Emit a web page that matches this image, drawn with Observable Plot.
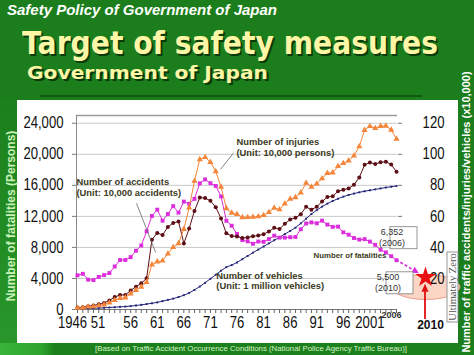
<!DOCTYPE html>
<html><head><meta charset="utf-8">
<script src="https://cdn.jsdelivr.net/npm/d3@7"></script>
<script src="https://cdn.jsdelivr.net/npm/@observablehq/plot@0.6"></script>
<style>
html,body{margin:0;padding:0;background:#1b7d1b;}
#stage{position:relative;width:474px;height:355px;overflow:hidden;background:#1b7d1b;font-family:"Liberation Sans",Arial,sans-serif;}
.abs{position:absolute;white-space:nowrap;line-height:1;}
#kicker{left:7px;top:3px;font-size:14px;font-weight:bold;font-style:italic;color:#fff;transform-origin:0 0;}
#title{left:22px;top:28px;font-family:"DejaVu Sans",sans-serif;font-weight:bold;font-size:31.5px;color:#fdf6a6;text-shadow:2px 2px 0 #0a3a0a;transform-origin:0 0;}
#subtitle{left:27px;top:64px;font-family:"DejaVu Sans",sans-serif;font-weight:bold;font-size:18.5px;color:#fdf6a6;text-shadow:2px 2px 0 #0a3a0a;transform-origin:0 0;}
#shadow{left:40px;top:95px;width:382px;height:2px;background:#0f5a0f;}
#panel{left:17px;top:100px;width:441px;height:243px;background:#fff;}
#footband{left:0;top:343px;width:474px;height:12px;background:linear-gradient(90deg,#38b438 0,#2fa52f 40px,#1c801c 55px,#1c801c 100%);}
#leftband{left:0;top:100px;width:17px;height:243px;background:linear-gradient(#1c801c,#28962a);}
#footer{left:95px;top:345px;font-size:7.5px;color:#d6f3c8;transform-origin:0 0;}
.rot{transform:translate(-50%,-50%) rotate(-90deg);font-weight:bold;}
#ylabL{left:11px;top:216px;font-size:12px;color:#c9f2b9;}
#ylabR{left:466px;top:212px;font-size:11px;color:#fff;}
#chart{position:absolute;left:0;top:0;}
</style></head>
<body>
<div id="stage">
  <div class="abs" id="kicker">Safety Policy of Government of Japan</div>
  <div class="abs" id="title">Target of safety measures</div>
  <div class="abs" id="subtitle">Government of Japan</div>
  <div class="abs" id="shadow"></div>
  <div class="abs" id="leftband"></div>
  <div class="abs" id="panel"></div>
  <div class="abs" id="footband"></div>
  <div class="abs" id="footer">[Based on Traffic Accident Occurrence Conditions (National Police Agency Traffic Bureau)]</div>
  <div class="abs rot" id="ylabL">Number of fatalities (Persons)</div>
  <div class="abs rot" id="ylabR">Number of traffic accidents/injuries/vehicles (x10,000)</div>
  <div id="chart"></div>
</div>
<script>
// ---------- data ----------
const years = [1946,1947,1948,1949,1950,1951,1952,1953,1954,1955,1956,1957,1958,1959,1960,1961,1962,1963,1964,1965,1966,1967,1968,1969,1970,1971,1972,1973,1974,1975,1976,1977,1978,1979,1980,1981,1982,1983,1984,1985,1986,1987,1988,1989,1990,1991,1992,1993,1994,1995,1996,1997,1998,1999,2000,2001,2002,2003,2004,2005,2006];
// persons (left axis)
const fatalities = [4409,4600,3848,3790,4202,4429,4696,5544,6374,6379,6751,7575,8248,10079,12055,12865,11445,12301,13318,12484,13904,13618,14256,16257,16765,16278,15918,14574,11432,10792,9734,8945,8783,8466,8760,8719,9073,9520,9262,9261,9317,9347,10344,11086,11227,11109,11451,10942,10649,10679,9942,9640,9211,9006,9066,8747,8326,7702,7358,6871,6352];
// x10,000 accidents (right axis)
const accidents = [1.25,1.47,2.13,2.51,3.32,4.14,5.85,8.00,9.39,9.40,12.27,14.68,16.88,20.13,44.99,49.37,47.98,53.20,55.72,56.73,42.59,52.15,63.51,72.09,71.81,70.03,65.93,58.67,49.05,47.29,47.10,46.06,46.40,47.16,47.67,48.56,50.23,52.64,51.86,55.28,57.92,59.07,61.45,66.14,64.31,66.24,69.53,72.47,72.95,76.18,77.11,78.04,80.39,85.04,93.19,94.73,93.70,94.83,95.22,93.43,88.69];
// x10,000 persons (right axis)
const injuries = [0.94,1.15,1.76,2.02,2.55,3.13,4.33,5.93,7.24,7.65,10.21,12.45,14.54,17.60,28.92,30.87,31.38,35.91,40.11,42.57,51.78,65.54,82.81,96.70,98.11,94.97,88.92,78.99,65.14,62.25,61.40,59.32,59.41,59.63,59.87,60.73,62.62,65.48,64.43,68.13,71.23,72.22,75.28,81.48,79.03,81.02,84.40,87.86,88.17,92.27,94.22,95.89,99.07,105.04,115.57,118.10,116.80,118.17,118.31,115.71,109.82];
// million vehicles (right axis)
const vehicles = [0.5,0.6,0.7,0.8,0.9,1.1,1.3,1.5,1.7,1.9,2.2,2.6,3.0,3.5,4.0,4.6,5.4,6.2,7.0,8.0,9.2,10.7,12.6,14.8,17.2,19.8,22.4,25.0,27.3,28.6,30.3,32.4,34.5,36.6,38.6,40.6,42.6,44.6,46.6,48.6,50.6,52.7,55.5,58.5,61.5,64.0,66.3,68.2,69.9,71.4,72.7,73.8,74.7,75.5,76.2,76.8,77.4,78.0,78.6,79.1,79.6];

const leftTicks = [0,4000,8000,12000,16000,20000,24000];
const rightTicks = [20,40,60,80,100,120];
const rightToLeft = 200;           // 120 (x10,000) sits level with 24,000 persons
const xTickYears = [1946,1951,1956,1961,1966,1971,1976,1981,1986,1991,1996,2001];
const xTickLabels = ["1946","51","56","61","66","71","76","81","86","91","96","2001"];

// projection / target
const latest = {year: 2006, value: 6352};
const target = {year: 2010, value: 4150};   // where the star is drawn
const latestLabel = ["6,352", "(2006)"];
const targetLabel = ["5,500", "(2010)"];

// series annotations
const seriesLabels = [
  {text: "Number of accidents\n(Unit: 10,000 accidents)", year: 1945.8, value: 15750, size: 9.4},
  {text: "Number of injuries\n(Unit: 10,000 persons)", year: 1975.9, value: 20900, size: 9.4},
  {text: "Number of vehicles\n(Unit: 1 million vehicles)", year: 1972.1, value: 3700, size: 9.6},
  {text: "Number of fatalities", year: 1990.4, value: 6960, size: 7.8}
];
const leaders = [
  {year1: 1957.1, value1: 13680, year2: 1960.7, value2: 7350},
  {year1: 1975.3, value1: 20130, year2: 1972.9, value2: 18060}
];

// ---------- build ----------
const rows = years.map((year, i) => ({year, fatalities: fatalities[i], accidents: accidents[i], injuries: injuries[i], vehicles: vehicles[i]}));
const xt = xTickYears.map((year, i) => ({year, label: xTickLabels[i]}));
const NARROW = "Liberation Sans, Arial, sans-serif";
const INK = "#3c3a22";

function series(key, color, symbol, r, k) {
  return [
    Plot.line(rows, {x: "year", y: d => d[key] * k, stroke: color, strokeWidth: 1}),
    Plot.dot(rows, {x: "year", y: d => d[key] * k, symbol, r, fill: color, stroke: "none"})
  ];
}

function frameLines(index, scales, values, dims) {
  const L = dims.marginLeft, R = dims.width - dims.marginRight, T = dims.marginTop, B = dims.height - dims.marginBottom;
  const g = d3.create("svg:g");
  g.append("line").attr("x1", L).attr("x2", R).attr("y1", T + 0.5).attr("y2", T + 0.5).attr("stroke", "#9a9a9a").attr("stroke-width", 1.5);
  g.append("line").attr("x1", L + 0.5).attr("x2", L + 0.5).attr("y1", T).attr("y2", B).attr("stroke", "#8a8a8a");
  g.append("line").attr("x1", L).attr("x2", R).attr("y1", B + 0.5).attr("y2", B + 0.5).attr("stroke", "#777");
  return g.node();
}

function targetBack(index, scales, values, dims) {
  const x = scales.x, y = scales.y;
  const cx = x(target.year), cy = y(0) - 22;
  const g = d3.create("svg:g");
  g.append("ellipse").attr("cx", cx + 1).attr("cy", cy).attr("rx", 34).attr("ry", 12.5)
    .attr("fill", "#fbd6c4").attr("stroke", "#e48a78").attr("stroke-width", 0.8);
  return g.node();
}

function targetFront(index, scales, values, dims) {
  const x = scales.x, y = scales.y;
  const g = d3.create("svg:g");
  const x0 = x(latest.year), y0 = y(latest.value), x1 = x(target.year), y1 = y(target.value);
  const len = Math.hypot(x1 - x0, y1 - y0), ux = (x1 - x0) / len, uy = (y1 - y0) / len;
  const ex = x1 - ux * 7, ey = y1 - uy * 7;
  const bx = ex - ux * 7, by = ey - uy * 7;
  g.append("line").attr("x1", x0).attr("y1", y0).attr("x2", bx).attr("y2", by)
    .attr("stroke", "#dc2ddc").attr("stroke-width", 1.6).attr("stroke-dasharray", "3,2");
  g.append("path").attr("d", `M${ex},${ey}L${bx - uy * 3.5},${by + ux * 3.5}L${bx + uy * 3.5},${by - ux * 3.5}Z`).attr("fill", "#dc2ddc");
  const ax = x(target.year), ayBottom = y(0) + 10, ayTop = y(target.value) + 7;
  g.append("line").attr("x1", ax).attr("x2", ax).attr("y1", ayBottom).attr("y2", ayTop + 6).attr("stroke", "#e01010").attr("stroke-width", 1.8);
  g.append("path").attr("d", `M${ax},${ayTop}L${ax - 3.5},${ayTop + 8}L${ax + 3.5},${ayTop + 8}Z`).attr("fill", "#e01010");
  function box(px, py, lines) {
    g.append("rect").attr("x", px).attr("y", py).attr("width", 27).attr("height", 22)
      .attr("fill", "#fff").attr("stroke", "#8a8a8a").attr("stroke-width", 0.9);
    lines.forEach((t, i) => g.append("text").attr("x", px + 2).attr("y", py + 8.5 + i * 11)
      .attr("font-size", 9).attr("fill", "#333").attr("font-family", "'Liberation Sans',Arial,sans-serif").text(t));
  }
  box(x(latest.year) - 6, y(latest.value) - 33, latestLabel);
  box(x(target.year) - 39, y(target.value) - 5, targetLabel);
  const zx = x(target.year) + 22, zy = y(0) - 57;
  g.append("rect").attr("x", zx).attr("y", zy).attr("width", 11).attr("height", 70)
    .attr("fill", "#fff").attr("stroke", "#8a8a8a").attr("stroke-width", 0.9);
  g.append("text").attr("transform", `translate(${zx + 8.8},${zy + 35}) rotate(-90)`)
    .attr("text-anchor", "middle").attr("font-size", 10.5).attr("fill", "#555")
    .attr("font-family", "'Liberation Serif','Times New Roman',serif").text("Ultimately Zero");
  return g.node();
}

const chart = Plot.plot({
  width: 474, height: 355,
  marginLeft: 76, marginRight: 77, marginTop: 115, marginBottom: 46,
  style: {background: "transparent", fontFamily: "'Liberation Sans',Arial,sans-serif", overflow: "visible", color: "#111"},
  x: {type: "linear", domain: [1946, 2006, 2010], range: [77, 396, 425]},
  y: {domain: [0, 25000]},
  marks: [
    Plot.gridY(leftTicks.filter(d => d > 0), {stroke: "#c9c9c9", strokeOpacity: 1}),
    frameLines,
    targetBack,
    Plot.axisY(leftTicks.filter(d => d > 0), {anchor: "right", tickSize: 4, tickFormat: () => "", stroke: "#777"}),
    Plot.axisX(years, {anchor: "bottom", tickSize: 4, tickFormat: () => "", stroke: "#666"}),
    Plot.axisY(leftTicks, {anchor: "left", tickSize: 4, tickPadding: 9, tickFormat: d3.format(","), fontSize: 16, fontFamily: NARROW, stroke: "#777"}),
    Plot.text(rightTicks, {y: d => d * rightToLeft, text: d => String(d), frameAnchor: "right", textAnchor: "end", dx: 47, fontSize: 16, fontFamily: NARROW, fill: "#111"}),
    Plot.text(xt, {filter: (d, i) => i === 0, x: "year", text: "label", frameAnchor: "bottom", dy: 18, dx: -5, fontSize: 16, fontFamily: NARROW, fill: "#111"}),
    Plot.text(xt, {filter: (d, i) => i === 1, x: "year", text: "label", frameAnchor: "bottom", dy: 18, dx: -6, fontSize: 16, fontFamily: NARROW, fill: "#111"}),
    Plot.text(xt, {filter: (d, i) => i > 1, x: "year", text: "label", frameAnchor: "bottom", dy: 18, fontSize: 16, fontFamily: NARROW, fill: "#111"}),
    Plot.text([latest], {x: "year", text: d => String(d.year), frameAnchor: "bottom", dy: 8, dx: -5, fontSize: 9, fontWeight: "bold", fill: "#333"}),
    Plot.text([target], {x: "year", text: d => String(d.year), frameAnchor: "bottom", dy: 19, dx: 5, fontSize: 12, fontWeight: "bold", fill: "#111"}),
    ...series("vehicles", "#25257a", "square", 1.1, rightToLeft),
    ...series("fatalities", "#dc2ddc", "square", 2.2, 1),
    ...series("accidents", "#5c0f14", "circle", 2.0, rightToLeft),
    ...series("injuries", "#f3863a", "triangle", 2.3, rightToLeft),
    Plot.link(leaders, {x1: "year1", y1: "value1", x2: "year2", y2: "value2", stroke: "#666", strokeWidth: 0.8}),
    Plot.text(seriesLabels.filter(d => d.size > 9), {x: "year", y: "value", text: "text", textAnchor: "start", fontSize: 9.4, fontWeight: "bold", lineHeight: 1.12, fill: INK}),
    Plot.text(seriesLabels.filter(d => d.size < 9), {x: "year", y: "value", text: "text", textAnchor: "start", fontSize: 7.8, fontWeight: "bold", fill: INK}),
    targetFront,
    Plot.dot([target], {x: "year", y: "value", symbol: "star", r: 6.5, fill: "#e81010", stroke: "none"})
  ]
});
document.getElementById("chart").appendChild(chart);

// condense the 16px tick numerals horizontally (narrow face look)
chart.querySelectorAll("text").forEach(el => {
  if (getComputedStyle(el).fontSize !== "16px") return;
  let t = el.getAttribute("transform");
  if (!t) {
    const x = el.getAttribute("x") || 0, y = el.getAttribute("y") || 0;
    el.removeAttribute("x"); el.removeAttribute("y");
    t = `translate(${x},${y})`;
  }
  el.setAttribute("transform", t + " scale(0.82,1)");
});

function fit(id, w) {
  const el = document.getElementById(id);
  const r = el.getBoundingClientRect().width;
  el.style.transform = `scaleX(${w / r})`;
}
fit("kicker", 270); fit("title", 416); fit("subtitle", 241); fit("footer", 312);
</script>
</body></html>
